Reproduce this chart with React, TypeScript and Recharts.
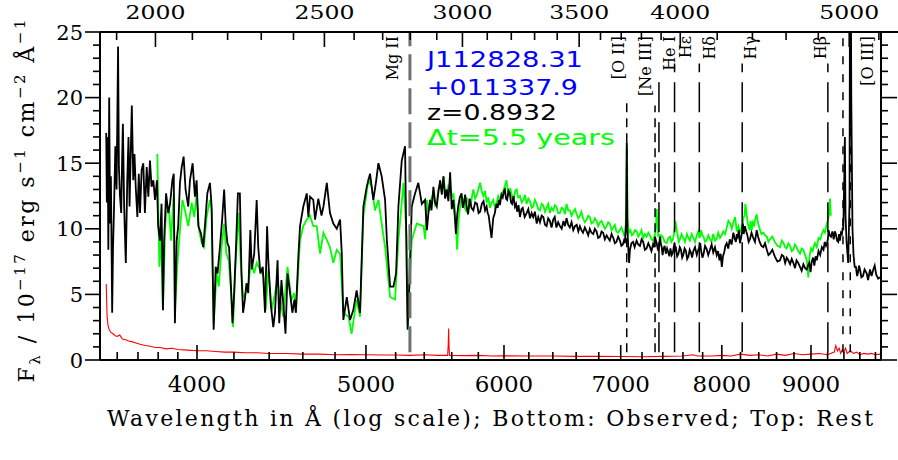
import { LineChart, Line, XAxis, YAxis, ReferenceLine } from "recharts";

const z = 0.8932;

// new (BOSS) epoch, black
const newWave = [
  3548, 3551, 3555, 3558, 3562, 3566, 3570, 3576, 3580, 3585, 3591, 3597, 3604, 3608, 3613, 3619, 3623, 3627, 3633, 3637,
  3641, 3648, 3654, 3659, 3664, 3670, 3677, 3683, 3689, 3697, 3704, 3710, 3718, 3726, 3734, 3743, 3751, 3759, 3767, 3776,
  3784, 3794, 3800, 3809, 3817, 3824, 3830, 3840, 3851, 3860, 3872, 3879, 3885, 3894, 3902, 3911, 3920, 3930, 3940, 3954,
  3963, 3977, 3989, 3998, 4007, 4021, 4033, 4042, 4055, 4069, 4078, 4089, 4100, 4110, 4123, 4135, 4146, 4155, 4164, 4173,
  4182, 4192, 4201, 4210, 4222, 4233, 4242, 4251, 4261, 4270, 4280, 4292, 4300, 4314, 4328, 4337, 4349, 4363, 4376, 4388,
  4395, 4409, 4424, 4434, 4449, 4459, 4472, 4484, 4496, 4508, 4523, 4537, 4549, 4558, 4573, 4583, 4603, 4624, 4634, 4644,
  4664, 4675, 4695, 4715, 4727, 4748, 4768, 4789, 4811, 4832, 4843, 4853, 4875, 4896, 4917, 4939, 4961, 4983, 5005, 5027,
  5049, 5066, 5083, 5105, 5128, 5140, 5162, 5185, 5203, 5219, 5242, 5265, 5276, 5283, 5294, 5312, 5335, 5358, 5383, 5406,
  5419, 5430, 5442, 5452, 5466, 5478, 5490, 5502, 5515, 5527, 5539, 5551, 5563, 5575, 5588, 5600, 5612, 5622, 5631, 5640,
  5648, 5660, 5673, 5682, 5690, 5700, 5711, 5722, 5735, 5748, 5762, 5776, 5790, 5802, 5814, 5827, 5840, 5852, 5864, 5872,
  5880, 5890, 5902, 5915, 5928, 5940, 5950, 5960, 5968, 5980, 5990, 6000, 6007, 6016, 6025, 6036, 6047, 6056, 6065, 6076,
  6087, 6096, 6105, 6116, 6128, 6140, 6150, 6166, 6182, 6196, 6210, 6223, 6236, 6250, 6265, 6278, 6292, 6306, 6320, 6334,
  6347, 6361, 6375, 6389, 6403, 6416, 6430, 6445, 6460, 6475, 6490, 6503, 6517, 6531, 6545, 6560, 6575, 6590, 6605, 6619,
  6633, 6646, 6660, 6676, 6692, 6706, 6720, 6735, 6751, 6765, 6780, 6795, 6811, 6825, 6840, 6855, 6871, 6885, 6900, 6916,
  6932, 6946, 6960, 6976, 6993, 7006, 7020, 7030, 7039, 7050, 7056, 7062, 7070, 7078, 7086, 7100, 7115, 7130, 7148, 7164,
  7180, 7196, 7211, 7227, 7243, 7260, 7276, 7290, 7305, 7315, 7325, 7333, 7341, 7350, 7358, 7366, 7373, 7382, 7390, 7398,
  7405, 7418, 7430, 7442, 7454, 7465, 7475, 7488, 7500, 7508, 7516, 7523, 7530, 7542, 7555, 7568, 7580, 7592, 7603, 7616,
  7630, 7642, 7655, 7668, 7680, 7692, 7705, 7722, 7740, 7752, 7766, 7775, 7785, 7798, 7810, 7825, 7840, 7858, 7876, 7893,
  7910, 7928, 7946, 7960, 7975, 7988, 8000, 8012, 8025, 8038, 8052, 8068, 8085, 8104, 8123, 8136, 8150, 8160, 8170, 8182,
  8194, 8206, 8218, 8226, 8235, 8242, 8248, 8262, 8275, 8289, 8303, 8320, 8340, 8358, 8377, 8393, 8410, 8430, 8451, 8470,
  8490, 8508, 8525, 8552, 8580, 8610, 8639, 8660, 8680, 8698, 8716, 8735, 8755, 8774, 8793, 8812, 8830, 8850, 8870, 8890,
  8910, 8930, 8949, 8965, 8980, 8995, 9009, 9025, 9040, 9055, 9069, 9090, 9110, 9130, 9150, 9165, 9180, 9192, 9203, 9212,
  9225, 9241, 9258, 9274, 9288, 9300, 9315, 9330, 9340, 9351, 9363, 9375, 9385, 9392, 9405, 9412, 9420, 9433, 9453, 9470,
  9480, 9492, 9507, 9520, 9535, 9550, 9565, 9575, 9590, 9602, 9620, 9640, 9660, 9687, 9705, 9730, 9750, 9772, 9790, 9810,
  9835, 9859,
];
const newFlux = [
  17.3, 12.0, 17.0, 8.4, 20.0, 10.4, 14.0, 3.6, 8.5, 11.7, 16.3, 13.0, 23.9, 14.7, 12.5, 11.2, 15.0, 18.0, 11.7, 9.5,
  7.4, 13.7, 17.0, 11.7, 15.2, 19.4, 13.7, 15.7, 13.2, 10.9, 14.2, 11.2, 14.5, 15.0, 11.2, 14.7, 12.45, 15.2, 13.2, 13.7,
  12.2, 13.7, 10.2, 9.1, 11.9, 3.8, 9.1, 12.7, 11.2, 11.9, 13.7, 14.2, 2.8, 9.1, 10.2, 13.5, 14.7, 15.5, 13.0, 11.7,
  13.7, 15.0, 12.45, 13.7, 10.2, 9.65, 8.6, 10.2, 12.7, 13.5, 11.7, 2.3, 7.1, 6.6, 8.6, 10.7, 13.0, 10.2, 8.9, 8.6,
  6.1, 2.8, 5.1, 8.1, 12.7, 12.7, 6.6, 3.6, 4.6, 5.85, 5.1, 9.9, 6.9, 8.1, 12.2, 8.6, 6.6, 7.1, 3.6, 10.2,
  7.6, 4.3, 2.5, 3.6, 7.6, 2.8, 6.1, 4.1, 2.0, 6.6, 5.1, 3.6, 4.6, 3.6, 7.9, 10.2, 11.7, 12.7, 10.9, 12.45,
  12.2, 10.7, 12.3, 11.0, 11.7, 13.5, 11.2, 10.4, 10.0, 10.7, 8.1, 3.05, 4.8, 3.05, 3.8, 5.3, 3.6, 11.7, 13.2, 14.2,
  12.2, 13.5, 15.0, 14.0, 12.2, 9.15, 5.6, 5.6, 6.6, 11.7, 15.2, 16.3, 7.1, 2.3, 5.6, 11.7, 12.7, 13.5, 11.9, 12.2,
  9.9, 11.2, 12.2, 11.4, 13.2, 12.0, 11.7, 12.8, 13.7, 12.6, 14.0, 12.3, 13.0, 12.1, 14.3, 11.5, 12.2, 11.0, 9.6, 11.0,
  11.7, 12.4, 12.7, 11.6, 11.9, 12.6, 11.7, 11.1, 12.3, 11.6, 11.4, 12.0, 11.9, 11.2, 11.3, 11.9, 12.1, 11.4, 11.7, 11.2,
  11.0, 10.2, 9.3, 10.8, 11.2, 11.9, 11.6, 12.2, 11.8, 12.6, 12.4, 12.9, 13.0, 12.3, 12.2, 12.9, 12.7, 12.0, 11.9, 12.5,
  11.7, 11.9, 11.3, 11.8, 10.9, 11.5, 11.6, 10.9, 11.2, 11.5, 10.8, 11.2, 10.9, 11.3, 10.4, 10.9, 10.5, 11.0, 10.9, 10.3,
  10.2, 10.8, 10.6, 10.1, 10.7, 10.9, 10.1, 10.5, 10.2, 10.0, 10.6, 10.2, 10.8, 10.3, 10.1, 10.5, 9.9, 10.2, 10.3, 9.8,
  10.2, 9.9, 9.7, 10.1, 9.8, 9.5, 10.0, 9.7, 9.6, 10.0, 9.8, 9.3, 9.4, 9.8, 9.7, 9.2, 9.5, 9.3, 9.1, 9.6,
  9.3, 8.9, 9.0, 9.4, 9.1, 8.7, 8.8, 9.1, 8.9, 10.5, 16.6, 10.0, 8.6, 7.4, 8.4, 8.9, 9.0, 8.6, 9.1, 8.8,
  8.7, 9.2, 9.0, 8.4, 8.5, 8.9, 8.6, 8.3, 8.8, 8.6, 9.4, 9.1, 8.9, 8.5, 8.3, 8.9, 9.4, 8.8, 8.6, 8.0,
  8.4, 8.7, 8.1, 8.5, 8.2, 7.9, 8.5, 8.0, 8.2, 8.6, 8.9, 8.4, 8.5, 7.9, 8.1, 8.6, 8.4, 7.8, 8.0, 8.5,
  8.3, 7.7, 7.9, 8.4, 8.2, 7.8, 8.3, 8.6, 8.0, 8.3, 8.6, 8.9, 8.3, 7.8, 8.1, 8.7, 8.5, 8.0, 8.4, 8.8,
  8.2, 8.6, 8.0, 8.3, 7.6, 8.1, 7.1, 7.9, 8.2, 8.7, 8.9, 8.5, 9.2, 8.8, 9.7, 9.3, 9.0, 9.6, 9.4, 9.9,
  8.9, 9.3, 9.8, 10.4, 9.6, 10.0, 10.2, 9.8, 9.5, 9.0, 9.2, 9.7, 9.3, 9.0, 9.9, 9.4, 9.0, 8.7, 8.6, 8.9,
  8.4, 8.0, 8.1, 8.4, 7.9, 7.5, 7.6, 8.0, 7.9, 7.4, 7.8, 7.6, 7.3, 7.7, 7.4, 7.0, 7.6, 7.4, 7.1, 6.8,
  7.3, 7.0, 6.9, 7.2, 7.4, 6.7, 7.5, 7.8, 7.2, 7.9, 7.6, 8.3, 8.0, 8.6, 8.4, 9.0, 8.7, 8.9, 9.2, 9.9,
  9.5, 9.4, 9.8, 9.2, 9.8, 9.6, 9.1, 9.0, 9.6, 9.1, 9.7, 9.6, 10.1, 9.9, 14, 17.0, 11, 9.0, 7.4, 12,
  40, 20, 10, 8.0, 7.1, 7.1, 6.4, 6.6, 7.2, 6.9, 6.3, 6.4, 6.9, 6.6, 6.1, 6.9, 6.4, 6.9, 7.2, 6.5,
  6.2, 6.3,
];

// old (SDSS) epoch, green
const oldWave = [
  3796, 3800, 3806, 3814, 3820, 3824, 3835, 3843, 3855, 3865, 3879, 3885, 3899, 3911, 3924, 3937, 3954, 3972, 3986, 3998,
  4011, 4025, 4037, 4051, 4069, 4078, 4089, 4105, 4117, 4132, 4146, 4158, 4171, 4186, 4195, 4208, 4226, 4238, 4251, 4265,
  4280, 4296, 4314, 4328, 4347, 4367, 4380, 4395, 4415, 4434, 4449, 4463, 4482, 4508, 4531, 4549, 4558, 4583, 4603, 4624,
  4644, 4664, 4685, 4706, 4727, 4748, 4768, 4789, 4811, 4832, 4853, 4886, 4906, 4939, 4961, 4983, 5016, 5038, 5060, 5083,
  5105, 5128, 5162, 5196, 5219, 5254, 5276, 5283, 5312, 5347, 5395, 5407,
  5419, 5430, 5440, 5452, 5466, 5478, 5490, 5502, 5515, 5527, 5539, 5551, 5563, 5575, 5588, 5600, 5612, 5626, 5640, 5650,
  5660, 5673, 5686, 5695, 5705, 5714, 5724, 5735, 5745, 5754, 5762, 5776, 5790, 5802, 5814, 5827, 5839, 5852, 5864, 5877,
  5890, 5902, 5915, 5928, 5940, 5954, 5968, 5982, 5995, 6008, 6020, 6030, 6040, 6050, 6060, 6070, 6080, 6090, 6101, 6114,
  6128, 6142, 6155, 6168, 6182, 6196, 6210, 6223, 6236, 6250, 6265, 6278, 6292, 6306, 6320, 6334, 6347, 6361, 6375, 6389,
  6403, 6416, 6430, 6445, 6460, 6475, 6490, 6503, 6517, 6531, 6545, 6560, 6575, 6590, 6605, 6619, 6633, 6646, 6660, 6676,
  6692, 6706, 6720, 6735, 6751, 6765, 6780, 6795, 6811, 6825, 6840, 6855, 6871, 6885, 6900, 6916, 6932, 6946, 6960, 6976,
  6993, 7006, 7020, 7032, 7043, 7052, 7058, 7064, 7075, 7090, 7105, 7117, 7133, 7150, 7165, 7180, 7195, 7210, 7227, 7243,
  7260, 7275, 7290, 7308, 7318, 7325, 7333, 7341, 7348, 7355, 7365, 7373, 7386, 7400, 7418, 7438, 7455, 7471, 7485, 7500,
  7510, 7518, 7524, 7530, 7537, 7545, 7558, 7570, 7586, 7603, 7620, 7640, 7655, 7670, 7688, 7705, 7722, 7740, 7755, 7770,
  7778, 7785, 7797, 7810, 7825, 7840, 7858, 7876, 7893, 7910, 7928, 7945, 7963, 7981, 7998, 8015, 8034, 8052, 8070, 8090,
  8106, 8123, 8142, 8160, 8178, 8194, 8210, 8225, 8235, 8245, 8252, 8259, 8270, 8280, 8290, 8300, 8310, 8322, 8336, 8350,
  8364, 8377, 8393, 8410, 8430, 8451, 8470, 8490, 8508, 8525, 8552, 8580, 8610, 8639, 8660, 8680, 8698, 8715, 8735, 8755,
  8774, 8793, 8812, 8830, 8850, 8870, 8890, 8910, 8930, 8950, 8960, 8968, 8976, 8985, 9000, 9020, 9045, 9069, 9090, 9110,
  9130, 9150, 9168, 9185, 9200, 9212, 9222, 9229, 9238,
];
const oldFlux = [
  15.7, 12.0, 7.1, 9.5, 6.6, 3.8, 9.9, 11.9, 11.5, 9.1, 12.7, 3.8, 7.6, 9.9, 12.2, 11.4, 10.2, 12.0, 10.9, 12.7,
  9.9, 8.9, 8.6, 10.9, 12.2, 11.4, 2.8, 6.6, 5.6, 8.6, 10.4, 8.1, 7.6, 4.8, 2.5, 7.1, 11.2, 7.4, 4.8, 5.1,
  5.6, 7.6, 6.6, 7.4, 6.9, 6.4, 3.8, 6.9, 3.8, 5.1, 6.1, 4.8, 3.3, 7.1, 4.6, 5.1, 3.6, 9.15, 10.2, 10.7,
  11.0, 10.2, 10.2, 8.1, 9.7, 9.15, 8.6, 7.4, 8.4, 8.1, 3.6, 3.3, 2.0, 4.6, 3.3, 11.0, 13.7, 13.2, 11.4, 12.2,
  10.4, 8.6, 4.8, 4.6, 9.15, 13.5, 9.4, 2.5, 9.15, 10.4, 10.2, 9.2,
  12.2, 11.3, 11.5, 12.3, 12.7, 11.8, 12.0, 13.0, 13.5, 12.8, 14.0, 12.9, 12.6, 13.3, 13.2, 12.4, 12.7, 11.2, 8.4, 10.6,
  11.5, 12.5, 12.2, 11.6, 11.4, 12.3, 12.2, 11.7, 12.0, 12.6, 13.0, 12.3, 12.6, 13.1, 13.5, 12.8, 12.5, 12.9, 12.0, 12.4,
  11.6, 12.0, 12.2, 11.6, 11.9, 12.5, 12.2, 12.7, 12.9, 13.3, 13.7, 12.9, 12.5, 13.1, 12.7, 12.2, 12.4, 12.9, 13.0, 12.4,
  12.5, 12.0, 12.2, 12.6, 11.9, 12.3, 12.1, 11.6, 11.7, 12.2, 11.9, 11.5, 11.4, 11.9, 11.8, 11.3, 11.6, 11.9, 11.2, 11.6,
  11.4, 11.8, 11.7, 11.2, 11.2, 11.6, 11.5, 11.1, 11.9, 11.4, 11.4, 11.0, 11.3, 11.5, 11.1, 10.8, 11.0, 11.3, 10.8, 10.5,
  10.7, 11.0, 10.9, 10.4, 10.5, 10.8, 10.6, 10.2, 10.5, 10.6, 10.3, 10.0, 10.2, 10.5, 10.4, 9.9, 10.1, 10.3, 9.8, 9.7,
  9.9, 10.1, 9.8, 9.5, 9.7, 11.5, 16.5, 10.8, 9.7, 9.9, 9.5, 9.6, 9.9, 9.8, 9.4, 9.6, 9.9, 9.3, 9.6, 9.4,
  9.7, 9.5, 9.2, 9.1, 9.4, 9.6, 10.2, 11.5, 10.4, 9.4, 9.6, 9.1, 9.5, 9.4, 9.0, 8.9, 9.3, 9.4, 9.0, 9.2,
  9.6, 10.1, 10.6, 10.3, 9.9, 9.6, 9.0, 9.2, 9.6, 9.3, 9.0, 9.6, 9.3, 9.1, 9.6, 9.3, 9.0, 9.5, 9.8, 9.3,
  9.6, 9.9, 9.5, 9.4, 9.0, 9.1, 9.5, 9.2, 9.0, 9.6, 9.1, 9.2, 9.7, 9.3, 9.5, 9.8, 9.6, 10.1, 10.6, 10.4,
  10.0, 10.5, 10.9, 9.8, 10.2, 9.7, 10.1, 10.4, 10.9, 11.0, 11.9, 11.6, 10.9, 10.4, 10.1, 9.9, 10.6, 9.9, 10.5, 10.3,
  10.8, 11.1, 10.4, 10.0, 9.6, 9.7, 9.5, 9.4, 9.0, 9.2, 9.4, 9.0, 8.7, 8.6, 9.1, 8.9, 8.6, 8.5, 8.9, 8.7,
  8.3, 8.4, 8.8, 8.6, 8.3, 8.1, 8.5, 8.4, 8.0, 7.6, 7.0, 6.3, 7.4, 8.0, 8.5, 8.3, 8.9, 8.6, 9.3, 9.2,
  9.6, 9.9, 9.7, 10.3, 10.6, 10.9, 11.6, 12.3, 11.0,
];

// 1-sigma error of new epoch, red
const errWave = [
  3548, 3550, 3552, 3556, 3562, 3570, 3580, 3590, 3600, 3612, 3625, 3640, 3655, 3670, 3690, 3710, 3735, 3760, 3785, 3810,
  3840, 3870, 3900, 3950, 4000, 4050, 4100, 4150, 4200, 4260, 4330, 4400, 4500, 4600, 4700, 4800, 4900, 5000, 5100, 5200,
  5300, 5400, 5500, 5570, 5574, 5577, 5580, 5584, 5700, 5800, 5900, 6000, 6200, 6400, 6600, 6800, 7000, 7200, 7400, 7600,
  7700, 7750, 7900, 8000, 8100, 8200, 8300, 8400, 8500, 8600, 8700, 8800, 8900, 9000, 9100, 9200, 9280, 9300, 9320, 9340,
  9360, 9380, 9400, 9420, 9440, 9480, 9520, 9560, 9600, 9650, 9700, 9750, 9800, 9860,
];
const errFlux = [
  5.8, 4.6, 3.4, 2.7, 2.3, 2.1, 2.0, 1.85, 1.8, 1.9, 1.6, 1.55, 1.45, 1.4, 1.3, 1.2, 1.1, 1.05, 0.95, 0.95,
  0.85, 0.9, 0.8, 0.75, 0.7, 0.7, 0.65, 0.6, 0.6, 0.55, 0.55, 0.5, 0.5, 0.45, 0.45, 0.4, 0.42, 0.4, 0.38, 0.38,
  0.35, 0.4, 0.35, 0.35, 1.2, 2.4, 1.0, 0.35, 0.33, 0.35, 0.3, 0.32, 0.3, 0.3, 0.28, 0.28, 0.27, 0.25, 0.28, 0.3,
  0.4, 0.3, 0.3, 0.35, 0.3, 0.45, 0.35, 0.4, 0.3, 0.45, 0.35, 0.5, 0.4, 0.45, 0.5, 0.4, 0.6, 1.1, 0.7, 0.9,
  0.5, 0.8, 0.6, 0.9, 0.5, 0.7, 0.5, 0.6, 0.4, 0.5, 0.45, 0.5, 0.4, 0.45,
];

const obsLabels = [4000, 5000, 6000, 7000, 8000, 9000];
const obsTicks = [
  3600, 3700, 3800, 3900, 4000, 4200, 4400, 4600, 4800, 5000, 5200, 5400, 5600, 5800, 6000, 6200, 6400, 6600, 6800,
  7000, 7200, 7400, 7600, 7800, 8000, 8200, 8400, 8600, 8800, 9000, 9200, 9400, 9600, 9800,
];
const restLabels = [2000, 2500, 3000, 3500, 4000, 5000];
const restTicks = [
  1900, 2000, 2100, 2200, 2300, 2400, 2500, 2600, 2700, 2800, 2900, 3000, 3100, 3200, 3300, 3400, 3500, 3600, 3700,
  3800, 3900, 4000, 4200, 4400, 4600, 4800, 5000, 5200,
];
const fluxTicks = [0, 1, 2, 3, 4, 5, 6, 7, 8, 9, 10, 11, 12, 13, 14, 15, 16, 17, 18, 19, 20, 21, 22, 23, 24, 25];
const fluxLabels = [0, 5, 10, 15, 20, 25];

const lineNames = ["Mg II", "[O II]", "[Ne III]", "He I", "H\u03b5", "H\u03b4", "H\u03b3", "H\u03b2", "", "[O III]"];
const lineRest = [2799, 3727, 3869, 3889, 3970, 4102, 4341, 4861, 4959, 5007];

// drawing style of each marker line: top of segment (flux units), dash, label offset
const markStyle = [
  { top: 25, dash: "26 8", color: "#707070", width: 3, dx: -12 },
  { top: 20.0, dash: "9 6", color: "#000", width: 1.5, dx: -3 },
  { top: 19.4, dash: "9 6", color: "#000", width: 1.5, dx: -4 },
  { top: 21.3, dash: "30 10", color: "#000", width: 1.5, dx: 16 },
  { top: 22.6, dash: "30 10", color: "#000", width: 1.5, dx: 16 },
  { top: 22.6, dash: "30 10", color: "#000", width: 1.5, dx: 16 },
  { top: 22.6, dash: "30 10", color: "#000", width: 1.5, dx: 14 },
  { top: 22.6, dash: "30 10", color: "#000", width: 1.5, dx: -2 },
  { top: 25, dash: "8 10", color: "#000", width: 1.5, dx: 0 },
  { top: 25, dash: "8 10", color: "#000", width: 1.5, dx: 23 },
];

const newSpec = newWave.map((w, i) => ({ w, f: newFlux[i] }));
const oldSpec = oldWave.map((w, i) => ({ w, f: oldFlux[i] }));
const errSpec = errWave.map((w, i) => ({ w, f: errFlux[i] }));

const serif = "DejaVu Serif";
const sans = "DejaVu Sans";

function ObsTick(props: any) {
  const { x, payload } = props;
  const major = obsLabels.includes(payload.value);
  return (
    <g>
      <line x1={x} x2={x} y1={360} y2={360 - (major ? 15 : 8)} stroke="#000" strokeWidth={1.6} />
      {major && (
        <text x={x} y={392} textAnchor="middle" fontFamily={serif} fontSize={23} fill="#000">
          {payload.value}
        </text>
      )}
    </g>
  );
}

function RestTick(props: any) {
  const { x, payload } = props;
  const rest = Math.round(payload.value / (1 + z));
  const major = restLabels.includes(rest);
  return (
    <g>
      <line x1={x} x2={x} y1={32} y2={32 + (major ? 15 : 8)} stroke="#000" strokeWidth={1.6} />
      {major && (
        <text
          x={x}
          y={19}
          textAnchor="middle"
          fontFamily={serif}
          fontSize={18}
          fill="#000"
          textLength={60}
          lengthAdjust="spacingAndGlyphs"
        >
          {rest}
        </text>
      )}
    </g>
  );
}

function LeftTick(props: any) {
  const { y, payload } = props;
  const major = fluxLabels.includes(payload.value);
  return (
    <g>
      <line x1={100} x2={100 - (major ? 15 : 7)} y1={y} y2={y} stroke="#000" strokeWidth={1.6} />
      {major && (
        <text x={83} y={y + 7.5} textAnchor="end" fontFamily={serif} fontSize={21} fill="#000">
          {payload.value}
        </text>
      )}
    </g>
  );
}

function RightTick(props: any) {
  const { y, payload } = props;
  const major = fluxLabels.includes(payload.value);
  return <line x1={881} x2={881 + (major ? 16 : 7)} y1={y} y2={y} stroke="#000" strokeWidth={1.6} />;
}

function markLabel(i: number) {
  return (p: any) => {
    const vb = p.viewBox || {};
    const bx = (vb.x ?? 0) + markStyle[i].dx;
    const ty = 36;
    return (
      <text
        x={bx}
        y={ty}
        transform={`rotate(-90 ${bx} ${ty})`}
        textAnchor="end"
        fontFamily={serif}
        fontSize={16}
        fill="#000"
      >
        {lineNames[i]}
      </text>
    );
  };
}

export default function App() {
  return (
    <div style={{ position: "absolute", left: 0, top: 0, width: 898, height: 460, background: "#fff" }}>
      <LineChart width={898} height={460} margin={{ top: 0, right: 0, bottom: 0, left: 0 }}>
        <XAxis
          xAxisId="obs"
          dataKey="w"
          type="number"
          scale="log"
          domain={[3519, 9872]}
          allowDataOverflow
          ticks={obsTicks}
          interval={0}
          height={100}
          tickLine={false}
          axisLine={{ stroke: "#000", strokeWidth: 2 }}
          tick={<ObsTick />}
        />
        <XAxis
          xAxisId="rest"
          orientation="top"
          dataKey="w"
          type="number"
          scale="log"
          domain={[3519, 9872]}
          allowDataOverflow
          ticks={restTicks.map((r) => r * (1 + z))}
          interval={0}
          height={32}
          tickLine={false}
          axisLine={{ stroke: "#000", strokeWidth: 2 }}
          tick={<RestTick />}
        />
        <YAxis
          yAxisId="l"
          type="number"
          domain={[0, 25]}
          allowDataOverflow
          ticks={fluxTicks}
          interval={0}
          width={100}
          tickLine={false}
          axisLine={{ stroke: "#000", strokeWidth: 2 }}
          tick={<LeftTick />}
        />
        <YAxis
          yAxisId="r"
          orientation="right"
          type="number"
          domain={[0, 25]}
          allowDataOverflow
          ticks={fluxTicks}
          interval={0}
          width={17}
          tickLine={false}
          axisLine={{ stroke: "#000", strokeWidth: 2 }}
          tick={<RightTick />}
        />
        <Line
          data={oldSpec}
          xAxisId="obs"
          yAxisId="l"
          dataKey="f"
          type="linear"
          stroke="#00ff00"
          strokeWidth={1.8}
          dot={false}
          activeDot={false}
          isAnimationActive={false}
        />
        <Line
          data={newSpec}
          xAxisId="obs"
          yAxisId="l"
          dataKey="f"
          type="linear"
          stroke="#000"
          strokeWidth={1.8}
          dot={false}
          activeDot={false}
          isAnimationActive={false}
        />
        <Line
          data={errSpec}
          xAxisId="obs"
          yAxisId="l"
          dataKey="f"
          type="linear"
          stroke="#ff0000"
          strokeWidth={1.1}
          dot={false}
          activeDot={false}
          isAnimationActive={false}
        />
        {lineRest.map((r, i) => (
          <ReferenceLine
            key={i}
            xAxisId="obs"
            yAxisId="l"
            segment={[
              { x: r * (1 + z), y: 0.6 },
              { x: r * (1 + z), y: markStyle[i].top },
            ]}
            stroke={markStyle[i].color}
            strokeWidth={markStyle[i].width}
            strokeDasharray={markStyle[i].dash}
            ifOverflow="visible"
            label={lineNames[i] ? markLabel(i) : undefined}
          />
        ))}
      </LineChart>
      <svg
        width={898}
        height={460}
        style={{ position: "absolute", left: 0, top: 0, pointerEvents: "none" }}
      >
        <line x1={881} x2={898} y1={32} y2={32} stroke="#000" strokeWidth={2} />
        <text
          transform="translate(34,201) rotate(-90)"
          textAnchor="middle"
          fontFamily={serif}
          fontSize={22}
          fill="#000"
          textLength={363}
          lengthAdjust="spacing"
        >
          F<tspan fontSize={15} dy={6}>{"\u03bb"}</tspan>
          <tspan dy={-6}>{" / 10"}</tspan>
          <tspan fontSize={15} dy={-9}>{"\u221217"}</tspan>
          <tspan dy={9}>{" erg s"}</tspan>
          <tspan fontSize={15} dy={-9}>{"\u22121"}</tspan>
          <tspan dy={9}>{" cm"}</tspan>
          <tspan fontSize={15} dy={-9}>{"\u22122"}</tspan>
          <tspan dy={9}>{" \u00c5"}</tspan>
          <tspan fontSize={15} dy={-9}>{"\u22121"}</tspan>
        </text>
        <text
          x={107}
          y={426}
          fontFamily={serif}
          fontSize={22}
          fill="#000"
          textLength={766}
          lengthAdjust="spacing"
        >
          {"Wavelength in \u00c5 (log scale); Bottom: Observed; Top: Rest"}
        </text>
        <text x={427} y={67} fontFamily={sans} fontSize={22} fill="#0000ff" textLength={156} lengthAdjust="spacingAndGlyphs">
          J112828.31
        </text>
        <text x={427} y={95} fontFamily={sans} fontSize={22} fill="#0000ff" textLength={151} lengthAdjust="spacingAndGlyphs">
          +011337.9
        </text>
        <text x={427} y={120} fontFamily={sans} fontSize={21} fill="#000" textLength={130} lengthAdjust="spacingAndGlyphs">
          z=0.8932
        </text>
        <text x={427} y={145} fontFamily={sans} fontSize={21} fill="#00ff00" textLength={188} lengthAdjust="spacingAndGlyphs">
          {"\u0394t=5.5 years"}
        </text>
      </svg>
    </div>
  );
}
